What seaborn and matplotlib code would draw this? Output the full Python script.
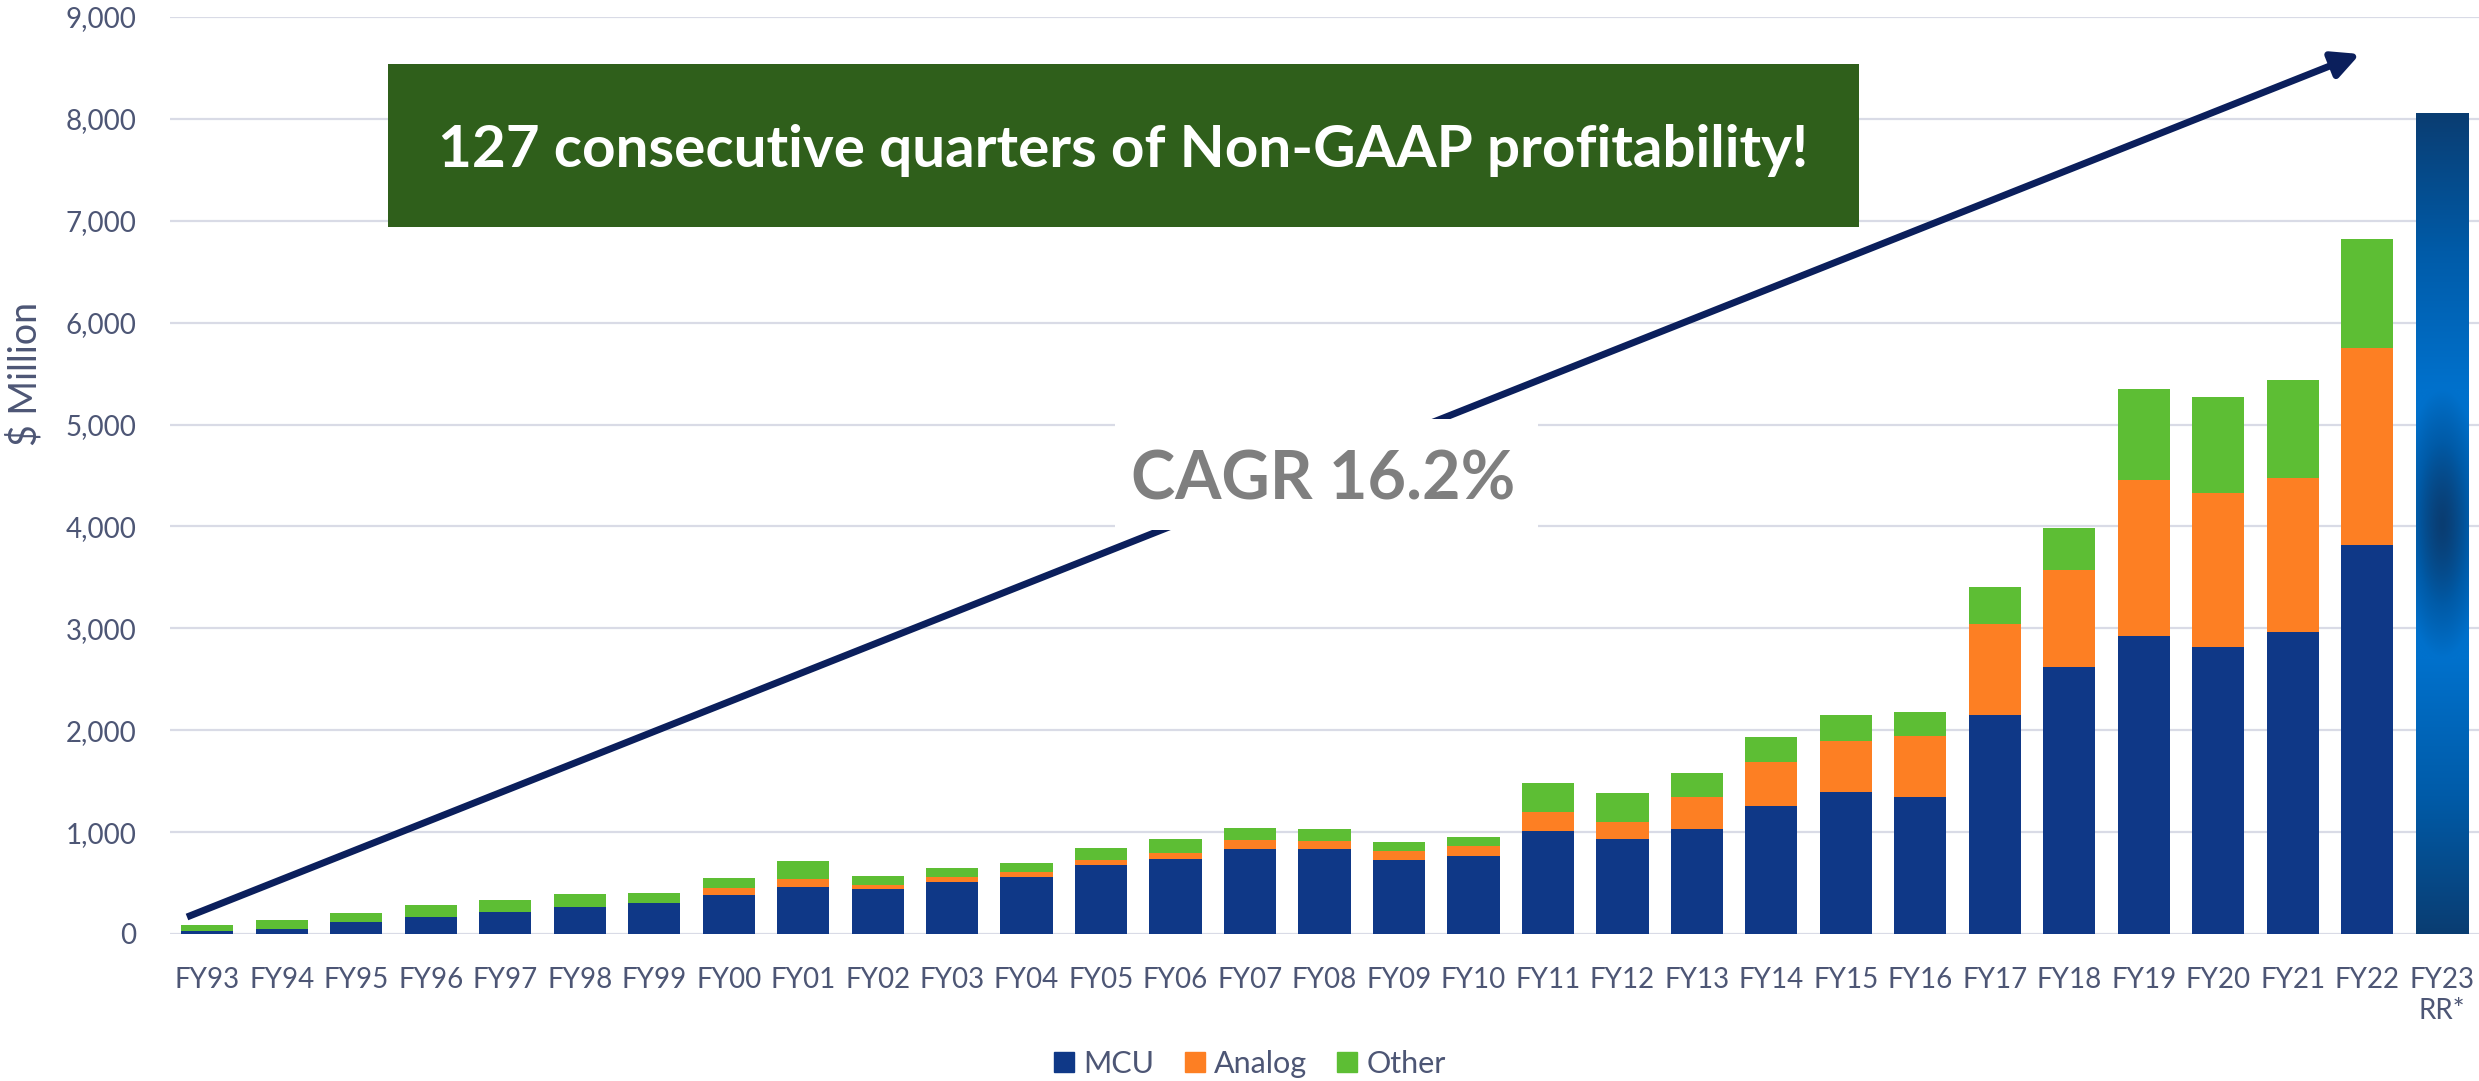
import numpy as np
import pandas as pd
import matplotlib
matplotlib.use("Agg")
import matplotlib.pyplot as plt
import seaborn as sns
from matplotlib.patches import Patch, Rectangle
from matplotlib.colors import LinearSegmentedColormap

# $ million per fiscal year
years = ["FY93", "FY94", "FY95", "FY96", "FY97", "FY98", "FY99", "FY00", "FY01", "FY02",
         "FY03", "FY04", "FY05", "FY06", "FY07", "FY08", "FY09", "FY10", "FY11", "FY12",
         "FY13", "FY14", "FY15", "FY16", "FY17", "FY18", "FY19", "FY20", "FY21", "FY22"]
mcu = [26, 52, 115, 164, 213, 269, 302, 387, 466, 439,
       511, 557, 675, 734, 833, 833, 731, 764, 1013, 928,
       1033, 1259, 1394, 1342, 2148, 2619, 2923, 2819, 2961, 3819]
analog = [0, 0, 0, 0, 0, 0, 0, 62, 72, 40,
          50, 50, 56, 63, 85, 82, 82, 98, 180, 170,
          315, 430, 503, 600, 891, 955, 1529, 1510, 1516, 1936]
other = [59, 86, 92, 121, 121, 128, 101, 102, 180, 88,
         88, 91, 115, 131, 121, 118, 89, 86, 292, 286,
         236, 249, 251, 232, 367, 407, 896, 942, 962, 1071]
rr_label = "FY23\nRR*"
rr_segments = [2700, 2650, 2705]   # FY23 run-rate bar, three gradient blocks
order = years + [rr_label]

c_mcu = "#0f3887"
c_analog = "#fd7f23"
c_other = "#5dbe34"
txt = "#4d5675"

df = pd.DataFrame({"year": years, "MCU": mcu, "Analog": analog, "Other": other})
df["mcu_top"] = df["MCU"]
df["analog_top"] = df["MCU"] + df["Analog"]
df["total"] = df["analog_top"] + df["Other"]

sns.set_style("white")
plt.rcParams["font.family"] = ["Lato", "DejaVu Sans"]

W, H = 2479, 1081
fig = plt.figure(figsize=(W / 100, H / 100), dpi=100)
ax = fig.add_axes([170 / W, 1 - 934 / H, (W - 170) / W, (934 - 17) / H])

# stacked bars: draw totals first, then cover with lower stacks
for col, c in [("total", c_other), ("analog_top", c_analog), ("mcu_top", c_mcu)]:
    sns.barplot(data=df, x="year", y=col, order=order, color=c, saturation=1,
                width=0.7, linewidth=0, errorbar=None, ax=ax, zorder=2)

# FY23 run-rate bar with blue gradients
pos = order.index(rr_label)
bottoms = np.concatenate([[0], np.cumsum(rr_segments)[:-1]])
rr_bars = ax.bar(pos, rr_segments, bottom=bottoms, width=0.7, color="none",
                 edgecolor="none", zorder=2)
dark, bright = "#0a3d72", "#0071cc"
ramp = LinearSegmentedColormap.from_list("ramp", [dark, "#005ba8", bright])
yy, xx = np.mgrid[0:1:200j, -1:1:40j]
r = np.clip(np.sqrt((2 * yy - 1) ** 2 + (0.6 * xx) ** 2), 0, 1)
grads = [
    yy,              # dark at bottom -> bright top
    r ** 1.4,        # bright edges, dark centre
    1 - yy,          # bright bottom -> dark top
]
for p, g in zip(rr_bars.patches, grads):
    im = ax.imshow(g, extent=[p.get_x(), p.get_x() + p.get_width(),
                              p.get_y(), p.get_y() + p.get_height()],
                   origin="lower", aspect="auto", cmap=ramp, vmin=0, vmax=1,
                   interpolation="bicubic", zorder=2)
    im.set_clip_path(p)

ax.set_xlim(-0.5, len(order) - 0.5)
ax.set_ylim(0, 9000)
ax.set_yticks(np.arange(0, 9001, 1000))
ax.set_yticklabels([f"{v:,}" for v in range(0, 9001, 1000)])
ax.yaxis.grid(True, color="#d9dbe6", linewidth=1.6)
ax.set_axisbelow(True)
for s in ax.spines.values():
    s.set_visible(False)
ax.tick_params(axis="both", length=0, labelsize=20, colors=txt, pad=24)
ax.set_xlabel("")
ax.set_ylabel("")

fig.text(25 / W, 1 - 374 / H, "$ Million", rotation=90, ha="center", va="center",
         fontsize=27, color=txt)

# growth arrow
ax.annotate("", xy=(2360 / W, 1 - 54 / H), xytext=(187 / W, 1 - 917 / H),
            xycoords="figure fraction", textcoords="figure fraction",
            arrowprops=dict(arrowstyle="-|>,head_length=0.9,head_width=0.45",
                            color="#0b1f5c", lw=5, shrinkA=0, shrinkB=0,
                            mutation_scale=18, capstyle="butt"),
            annotation_clip=False, zorder=3)

# CAGR label on white patch
fig.patches.append(Rectangle((1115 / W, 1 - 530 / H), (1538 - 1115) / W, (530 - 419) / H,
                             transform=fig.transFigure, facecolor="white",
                             edgecolor="none", zorder=5))
fig.text(1323 / W, 1 - 500 / H, "CAGR 16.2%", ha="center", va="baseline",
         fontsize=48, fontweight="bold", color="#7f7f7f", zorder=6)

# green banner
fig.patches.append(Rectangle((388 / W, 1 - 227 / H), (1859 - 388) / W, (227 - 64) / H,
                             transform=fig.transFigure, facecolor="#2f5f1b",
                             edgecolor="none", zorder=5))
fig.text(1123.5 / W, 1 - 167 / H, "127 consecutive quarters of Non-GAAP profitability!",
         ha="center", va="baseline", fontsize=42, fontweight="bold", color="white", zorder=6)

handles = [Patch(color=c_mcu, label="MCU"), Patch(color=c_analog, label="Analog"),
           Patch(color=c_other, label="Other")]
leg = fig.legend(handles=handles, loc="center", bbox_to_anchor=(1250 / W, 1 - 1064 / H),
                 ncol=3, frameon=False, fontsize=22, handlelength=0.65, handleheight=0.65,
                 handletextpad=0.3, columnspacing=1.0)
for t in leg.get_texts():
    t.set_color(txt)

fig.savefig("out.png", dpi=100)
